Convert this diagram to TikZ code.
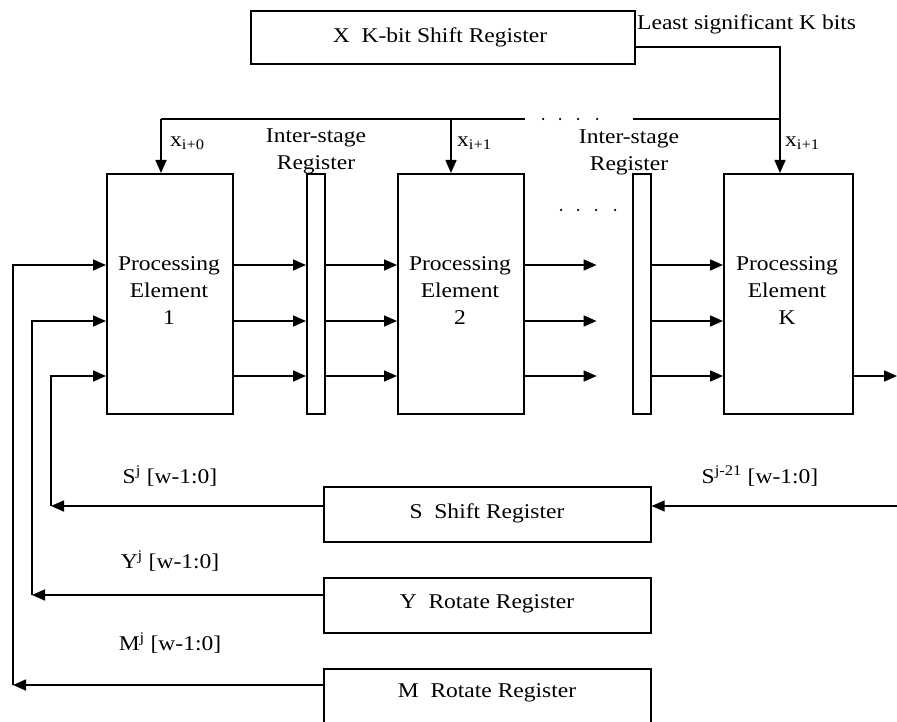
\documentclass[tikz,border=0pt]{standalone}
\usepackage{fontspec}
\setmainfont{Liberation Serif}[FakeStretch=1.12]
\usetikzlibrary{arrows.meta}
\begin{document}
\begin{tikzpicture}[x=1pt,y=-1pt,
  every node/.style={font=\fontsize{21}{27}\selectfont},
  box/.style={draw,line width=1.6pt,inner sep=0pt,anchor=north west},
  wire/.style={line width=1.6pt},
  arr/.style={line width=1.6pt,-{Triangle[length=13pt,width=11pt]}},
  lbl/.style={inner sep=0pt},
  dotmark/.style={fill,circle,inner sep=0pt,minimum size=2.5pt}]
\useasboundingbox (0,0) rectangle (897,722);
\clip (0,0) rectangle (897,722);
% rows
\coordinate (r1) at (0,265);
\coordinate (r2) at (0,321);
\coordinate (r3) at (0,376);
% top register
\node[box,minimum width=384pt,minimum height=53pt] (xr) at (250,10) {};
\node[lbl] (xrt) at (440,37) {X\ \ K-bit Shift Register};
\node[lbl,anchor=west] (lsb) at (637,24) {Least significant K bits};
% processing elements and inter-stage registers
\node[box,minimum width=126pt,minimum height=240pt] (pe1) at (106,173) {};
\node[box,minimum width=18pt,minimum height=240pt] (rg1) at (306,173) {};
\node[box,minimum width=126pt,minimum height=240pt] (pe2) at (397,173) {};
\node[box,minimum width=18pt,minimum height=240pt] (rg2) at (632,173) {};
\node[box,minimum width=129pt,minimum height=240pt] (pek) at (723,173) {};
\node[lbl,align=center,anchor=north] (pe1t) at (169,256) {Processing\\Element\\1};
\node[lbl,align=center,anchor=north] (pe2t) at (460,256) {Processing\\Element\\2};
\node[lbl,align=center,anchor=north] (pekt) at (787,256) {Processing\\Element\\K};
\node[lbl,align=center] (is1) at (316,151) {Inter-stage\\Register};
\node[lbl,align=center] (is2) at (629,152) {Inter-stage\\Register};
% x inputs
\coordinate (b1) at (161,119);
\coordinate (b2) at (451,119);
\coordinate (b3) at (780,119);
\coordinate (be) at (525,119);
\coordinate (bs) at (633,119);
\coordinate (c1) at (780,47);
\draw[wire] (xr.east |- c1) -- (c1) -- (b3);
\draw[arr] (b3) -- (pek.north -| b3);
\draw[wire] (b1) -- (be);
\draw[wire] (bs) -- (b3);
\draw[arr] (b1) -- (pe1.north -| b1);
\draw[arr] (b2) -- (pe2.north -| b2);
\foreach \i/\xx in {d1/543,d2/560,d3/578,d4/597} \node[dotmark] (\i) at (\xx,119) {};
\foreach \i/\xx in {e1/561,e2/578,e3/596,e4/615} \node[dotmark] (\i) at (\xx,210) {};
\node[lbl,anchor=west] (x0) at (170,143) {x\textsubscript{i+0}};
\node[lbl,anchor=west] (x1) at (457,143) {x\textsubscript{i+1}};
\node[lbl,anchor=west] (x2) at (785,143) {x\textsubscript{i+1}};
% data path arrows
\foreach \r in {r1,r2,r3}{
  \draw[arr] (pe1.east |- \r) -- (rg1.west |- \r);
  \draw[arr] (rg1.east |- \r) -- (pe2.west |- \r);
  \draw[arr] (pe2.east |- \r) -- ++(72,0);
  \draw[arr] (rg2.east |- \r) -- (pek.west |- \r);
}
\coordinate (out) at (897,376);
\draw[arr] (pek.east |- r3) -- (out);
% bottom registers
\node[box,minimum width=327pt,minimum height=55pt] (sr) at (323,486) {};
\node[box,minimum width=327pt,minimum height=55pt] (yr) at (323,577) {};
\node[box,minimum width=327pt,minimum height=70pt] (mr) at (323,668) {};
\node[lbl] (srt) at (487,513) {S\ \ Shift Register};
\node[lbl] (yrt) at (487,604) {Y\ \ Rotate Register};
\node[lbl] (mrt) at (487,693) {M\ \ Rotate Register};
\coordinate (sin) at (897,506);
\draw[arr] (sin) -- (sr.east |- sin);
\coordinate (sl) at (51,506);
\coordinate (yl) at (32,595);
\coordinate (ml) at (13,685);
\draw[arr] (sr.west |- sl) -- (sl);
\draw[arr] (yr.west |- yl) -- (yl);
\draw[arr] (mr.west |- ml) -- (ml);
\draw[arr] (sl) -- (sl |- r3) -- (pe1.west |- r3);
\draw[arr] (yl) -- (yl |- r2) -- (pe1.west |- r2);
\draw[arr] (ml) -- (ml |- r1) -- (pe1.west |- r1);
\node[lbl] (sj) at (170,476) {S\textsuperscript{j} [w-1:0]};
\node[lbl] (yj) at (170,561) {Y\textsuperscript{j} [w-1:0]};
\node[lbl] (mj) at (170,643) {M\textsuperscript{j} [w-1:0]};
\node[lbl] (sj2) at (760,476) {S\textsuperscript{j-21} [w-1:0]};
\end{tikzpicture}
\end{document}
